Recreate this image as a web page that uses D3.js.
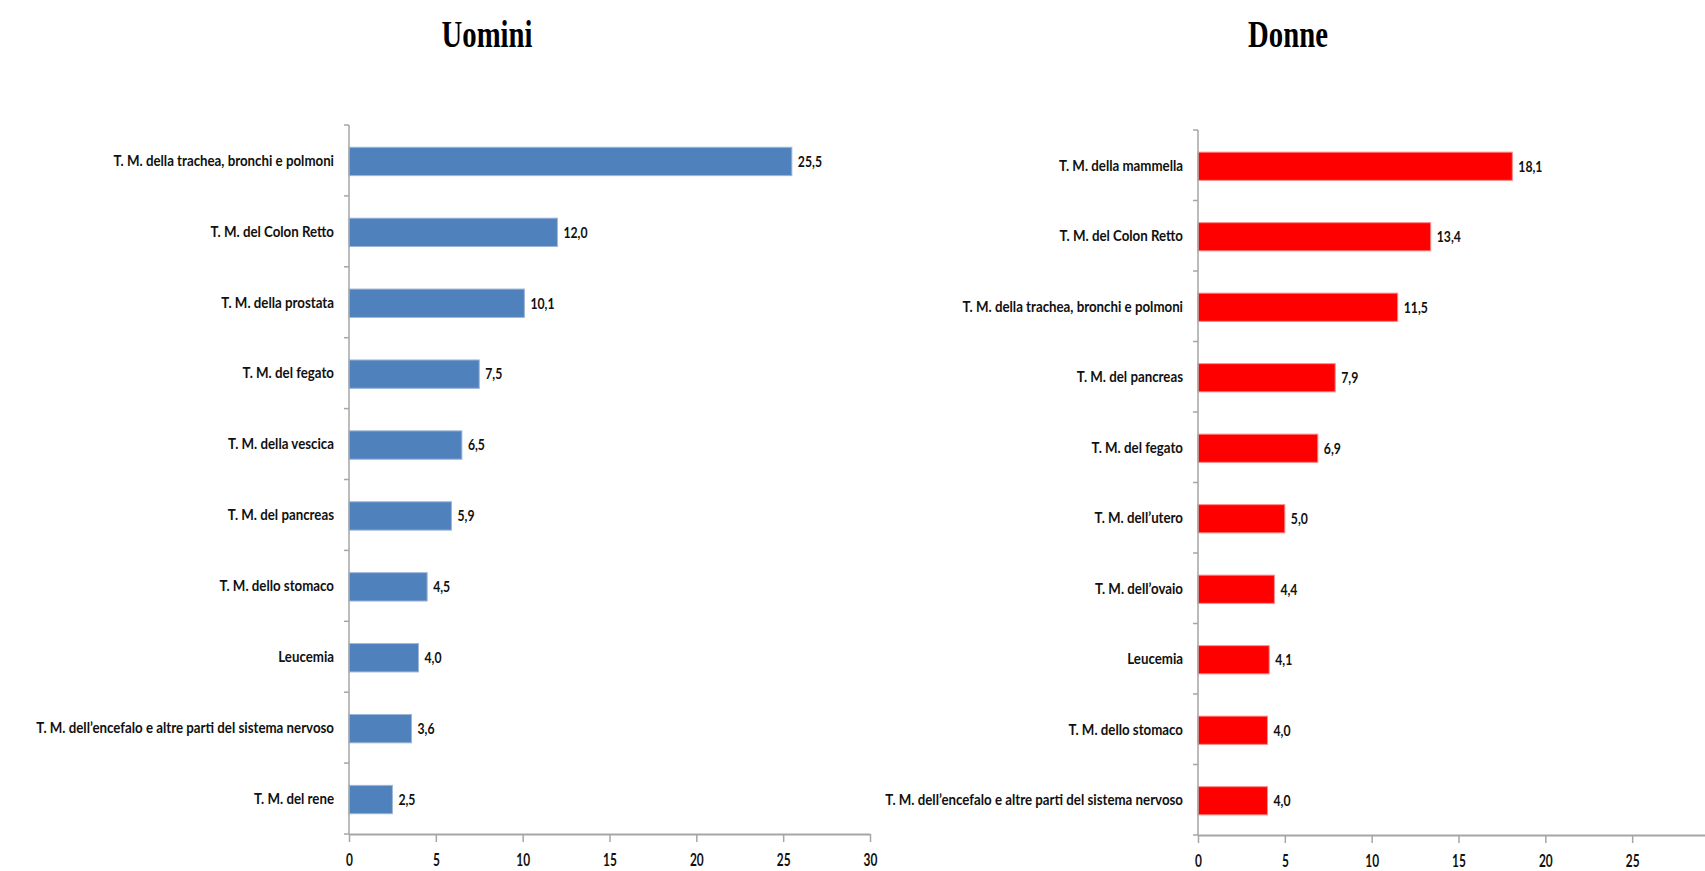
<!DOCTYPE html>
<html>
<head>
<meta charset="utf-8">
<script src="https://cdn.jsdelivr.net/npm/d3@7/dist/d3.min.js"></script>
<style>
  html, body { margin: 0; padding: 0; background: #fff; overflow: hidden; }
  svg { display: block; }
</style>
</head>
<body>
<svg id="chart" width="1705" height="871"></svg>
<script>
// ---- DATA ----
const menCategories = [
  "T. M. della trachea, bronchi e polmoni",
  "T. M. del Colon Retto",
  "T. M. della prostata",
  "T. M. del fegato",
  "T. M. della vescica",
  "T. M. del pancreas",
  "T. M. dello stomaco",
  "Leucemia",
  "T. M. dell’encefalo e altre parti del sistema nervoso",
  "T. M. del rene"
];
const menValues = [25.5, 12.0, 10.1, 7.5, 6.5, 5.9, 4.5, 4.0, 3.6, 2.5];

const womenCategories = [
  "T. M. della mammella",
  "T. M. del Colon Retto",
  "T. M. della trachea, bronchi e polmoni",
  "T. M. del pancreas",
  "T. M. del fegato",
  "T. M. dell’utero",
  "T. M. dell’ovaio",
  "Leucemia",
  "T. M. dello stomaco",
  "T. M. dell’encefalo e altre parti del sistema nervoso"
];
const womenValues = [18.1, 13.4, 11.5, 7.9, 6.9, 5.0, 4.4, 4.1, 4.0, 4.0];

const xTicks = [0, 5, 10, 15, 20, 25, 30];
const titles = ["Uomini", "Donne"];

// ---- LAYOUT ----
const W = 1705;
const svg = d3.select("#chart");
const labelFont = "Lato, 'Open Sans', sans-serif";
const axisColor = "#a6a6a6";

const panels = [
  { title: titles[0], cats: menCategories, vals: menValues, color: "#4f81bd", edge: "#9db6d8",
    x0: 349, x1: 870, top: 125, bottom: 834, titleX: 487 },
  { title: titles[1], cats: womenCategories, vals: womenValues, color: "#ff0000", edge: "#ff8a8a",
    x0: 1198, x1: 1198 + 521, top: 130, bottom: 835, titleX: 1288 }
];

const fmt = v => d3.format(".1f")(v).replace(".", ",");

// measure condensing factor for labels
const probe = svg.append("text")
  .attr("font-family", labelFont).attr("font-weight", 700).attr("font-size", 15)
  .text("T. M. dell’encefalo e altre parti del sistema nervoso");
const longLen = probe.node().getComputedTextLength();
probe.remove();
const labelScale = 298 / longLen;

const tprobe = svg.append("text")
  .attr("font-family", "'Liberation Serif', 'Times New Roman', serif").attr("font-weight", 700)
  .attr("font-size", 37).text("Uomini");
const titleScale = 91 / tprobe.node().getComputedTextLength();
tprobe.remove();

panels.forEach(p => {
  const g = svg.append("g");
  const x = d3.scaleLinear().domain([0, 30]).range([p.x0, p.x1]);
  const y = d3.scaleBand().domain(p.cats).range([p.top, p.bottom]).paddingInner(0).paddingOuter(0);
  const bh = y.bandwidth() * 0.40;

  // title
  g.append("text")
    .attr("transform", `translate(${p.titleX},47) scale(${titleScale},1)`)
    .attr("text-anchor", "middle")
    .attr("font-family", "'Liberation Serif', 'Times New Roman', serif")
    .attr("font-weight", 700)
    .attr("font-size", 37)
    .attr("fill", "#000")
    .text(p.title);

  // bars
  g.selectAll("rect.bar").data(p.cats).join("rect")
    .attr("class", "bar")
    .attr("x", x(0))
    .attr("y", d => y(d) + y.bandwidth() / 2 - bh / 2 + 1)
    .attr("width", (d, i) => x(p.vals[i]) - x(0))
    .attr("height", bh)
    .attr("fill", p.color)
    .attr("stroke", p.edge)
    .attr("stroke-width", 1);

  // value labels
  g.selectAll("text.val").data(p.cats).join("text")
    .attr("class", "val")
    .attr("transform", (d, i) => `translate(${x(p.vals[i]) + 6},${y(d) + y.bandwidth() / 2 + 1}) scale(${labelScale * 0.92},1)`)
    .attr("dy", "0.35em")
    .attr("font-family", labelFont).attr("font-weight", 700).attr("font-size", 15)
    .attr("fill", "#111")
    .text((d, i) => fmt(p.vals[i]));

  // category labels
  g.selectAll("text.cat").data(p.cats).join("text")
    .attr("class", "cat")
    .attr("transform", d => `translate(${p.x0 - 15},${y(d) + y.bandwidth() / 2}) scale(${labelScale},1)`)
    .attr("dy", "0.35em")
    .attr("text-anchor", "end")
    .attr("font-family", labelFont).attr("font-weight", 700).attr("font-size", 15)
    .attr("fill", "#111")
    .text(d => d);

  // y axis line + ticks at band boundaries
  const boundaries = p.cats.map(c => y(c)).concat([p.bottom]);
  g.append("line")
    .attr("x1", p.x0).attr("x2", p.x0).attr("y1", p.top).attr("y2", p.bottom)
    .attr("stroke", axisColor).attr("stroke-width", 1.5);
  g.selectAll("line.yt").data(boundaries).join("line")
    .attr("class", "yt")
    .attr("x1", p.x0 - 5).attr("x2", p.x0).attr("y1", d => d).attr("y2", d => d)
    .attr("stroke", axisColor).attr("stroke-width", 1.5);

  // x axis (ticks beyond the page edge are not drawn, as in the reference)
  const visibleTicks = xTicks.filter(t => x(t) <= W - 5);
  const xAxis = d3.axisBottom(x).tickValues(visibleTicks).tickSize(8).tickSizeOuter(0).tickFormat(d3.format("d"));
  const ax = g.append("g").attr("transform", `translate(0,${p.bottom})`).call(xAxis);
  ax.select(".domain").attr("stroke", axisColor).attr("stroke-width", 2);
  ax.selectAll(".tick line").attr("stroke", axisColor).attr("stroke-width", 1.5);
  ax.selectAll(".tick text")
    .attr("font-family", labelFont).attr("font-weight", 700).attr("font-size", 17)
    .attr("fill", "#111")
    .attr("y", 0).attr("dy", 0)
    .attr("transform", "translate(0,32) scale(0.7,1)");
});
</script>
</body>
</html>
